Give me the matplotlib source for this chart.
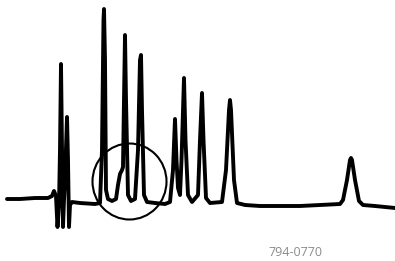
import matplotlib
matplotlib.use("Agg")
import matplotlib.pyplot as plt
from matplotlib.patches import Ellipse

# Trace: retention position and detector signal
trace_x = [7, 20, 35, 48, 52, 54, 56, 57.5, 59, 60, 61, 62, 63, 64, 65, 67, 68, 69, 70, 72,
           80, 95, 100, 102, 103.5, 104, 105, 106, 108, 112, 116, 118, 120, 122, 123, 124,
           125, 126, 128, 131, 135, 138, 140, 141, 142, 144, 147, 155, 165, 170, 173, 175,
           176.5, 178, 180, 181.5, 184, 185.5, 188, 192, 198, 200, 202, 203.5, 206, 210,
           222, 226, 229, 230, 231, 234, 237, 245, 260, 280, 300, 320, 340, 343, 347, 350,
           351, 352, 355, 359, 363, 375, 395]
trace_y = [199, 199, 198, 198, 196, 191, 196, 227, 205, 150, 64, 150, 227, 200, 180, 117,
           160, 227, 205, 202, 203, 204, 203, 150, 20, 9, 60, 190, 199, 201, 199, 185, 174,
           170, 167, 100, 35, 100, 195, 201, 199, 150, 60, 55, 110, 195, 202, 203, 204, 202,
           170, 119, 160, 188, 195, 160, 78, 140, 195, 202, 195, 140, 93, 140, 198, 203,
           202, 170, 110, 100, 110, 180, 203, 205, 206, 206, 206, 205, 204, 200, 180, 160,
           158, 160, 180, 201, 205, 206, 208]
signal = [261 - v for v in trace_y]

circle_center = (129.5, 261 - 181.5)
circle_radius = 37
label = "794-0770"

fig = plt.figure(figsize=(3.95, 2.61), dpi=100)
ax = fig.add_axes([0, 0, 1, 1])
ax.plot(trace_x, signal, color="black", lw=2.8, solid_joinstyle="round", solid_capstyle="round")
ax.add_patch(Ellipse(circle_center, 2 * circle_radius, 2 * circle_radius + 2,
                     fill=False, ec="black", lw=1.5))
ax.text(295, 261 - 253, label, color="#8a8a8a", fontsize=9, family="Open Sans",
        ha="center", va="center")
ax.set_xlim(0, 395)
ax.set_ylim(0, 261)
ax.axis("off")
fig.savefig("out.png", dpi=100)
